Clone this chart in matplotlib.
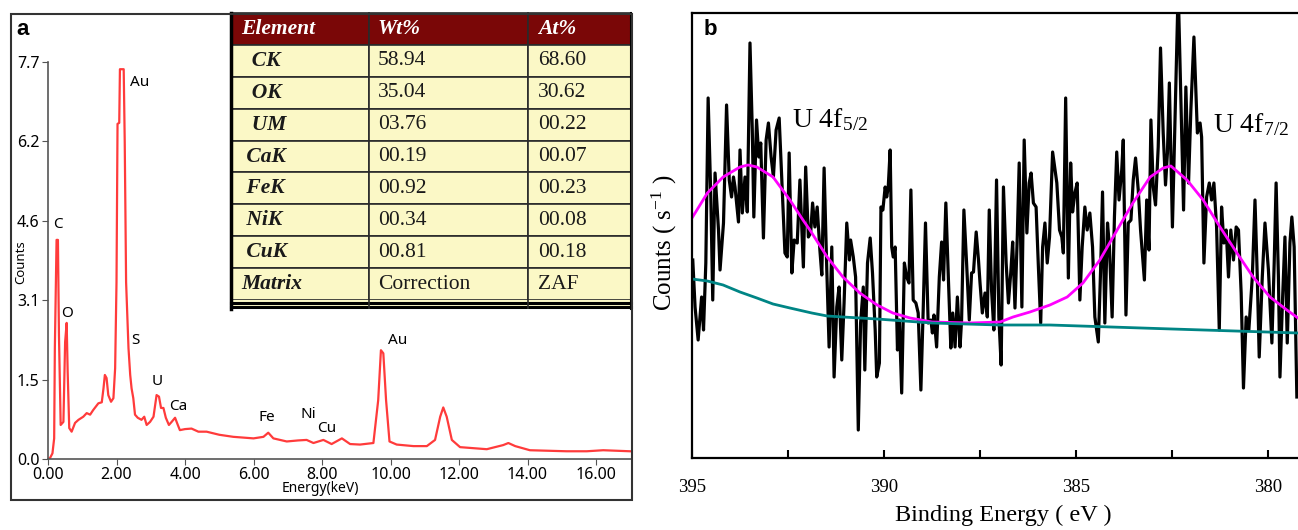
import matplotlib.pyplot as plt
from matplotlib.patches import Rectangle

# EDS spectrum (panel a)
eds_kev = [0.00, 0.06, 0.13, 0.18, 0.20, 0.25, 0.29, 0.32, 0.37, 0.45, 0.50, 0.545, 0.574, 0.62,
           0.69, 0.79, 0.89, 1.03, 1.13, 1.23, 1.32, 1.47, 1.57, 1.62, 1.66, 1.71, 1.76, 1.84,
           1.91, 1.96, 2.00, 2.03, 2.08, 2.10, 2.21, 2.24, 2.28, 2.35, 2.40, 2.44, 2.49, 2.54,
           2.62, 2.73, 2.81, 2.88, 2.98, 3.08, 3.17, 3.24, 3.30, 3.37, 3.44, 3.53, 3.61, 3.71,
           3.79, 3.85, 4.00, 4.19, 4.39, 4.63, 5.00, 5.41, 6.00, 6.29, 6.43, 6.58, 6.97, 7.30,
           7.55, 7.75, 8.04, 8.28, 8.58, 8.82, 9.11, 9.50, 9.64, 9.72, 9.79, 9.87, 9.97, 10.18,
           10.67, 11.06, 11.30, 11.45, 11.54, 11.64, 11.79, 12.03, 12.81, 13.29, 13.44, 13.64,
           14.07, 15.14, 15.73, 16.21, 16.99]
eds_counts = [0.0, 0.02, 0.11, 0.40, 2.15, 4.25, 4.25, 2.40, 0.66, 0.72, 2.27, 2.64, 1.69, 0.60,
              0.53, 0.70, 0.76, 0.82, 0.89, 0.86, 0.95, 1.08, 1.10, 1.37, 1.63, 1.57, 1.24, 1.11,
              1.18, 1.76, 3.43, 6.50, 6.52, 7.56, 7.56, 6.16, 3.43, 2.15, 1.63, 1.37, 1.18, 0.86,
              0.80, 0.76, 0.82, 0.66, 0.72, 0.82, 1.24, 1.21, 0.99, 0.99, 0.80, 0.66, 0.72, 0.80,
              0.66, 0.56, 0.58, 0.59, 0.53, 0.53, 0.47, 0.43, 0.40, 0.43, 0.51, 0.40, 0.34, 0.36,
              0.37, 0.31, 0.37, 0.29, 0.40, 0.29, 0.28, 0.31, 1.14, 2.11, 2.05, 1.14, 0.34, 0.28,
              0.25, 0.25, 0.37, 0.82, 1.00, 0.82, 0.37, 0.23, 0.19, 0.27, 0.31, 0.25,
              0.17, 0.15, 0.15, 0.17, 0.15]
eds_xticks = [0, 2, 4, 6, 8, 10, 12, 14, 16]
eds_yticks = [0, 1.54, 3.08, 4.62, 6.16, 7.7]
eds_ytick_labels = ['0.0', '1.5', '3.1', '4.6', '6.2', '7.7']
peak_names = ['C', 'O', 'Au', 'S', 'U', 'Ca', 'Fe', 'Ni', 'Cu', 'Au']
peak_label_x = [0.29, 0.55, 2.69, 2.54, 3.18, 3.80, 6.39, 7.59, 8.15, 10.22]
peak_label_y = [4.54, 2.83, 7.31, 2.29, 1.51, 1.01, 0.80, 0.87, 0.60, 2.29]

# table
table_header = ['Element', 'Wt%', 'At%']
table_elements = ['  CK', '  OK', '  UM', ' CaK', ' FeK', ' NiK', ' CuK', 'Matrix']
table_wt = ['58.94', '35.04', '03.76', '00.19', '00.92', '00.34', '00.81', 'Correction']
table_at = ['68.60', '30.62', '00.22', '00.07', '00.23', '00.08', '00.18', 'ZAF']

# XPS U 4f (panel b)
xps_energy = [394.98, 394.92, 394.84, 394.75, 394.70, 394.64, 394.58, 394.51, 394.46, 394.40,
              394.31, 394.27, 394.18, 394.10, 394.03, 393.97, 393.92, 393.88, 393.79, 393.75,
              393.69, 393.62, 393.56, 393.49, 393.43, 393.39, 393.32, 393.26, 393.21, 393.14,
              393.07, 393.01, 392.94, 392.88, 392.81, 392.73, 392.67, 392.58, 392.52, 392.47,
              392.40, 392.34, 392.26, 392.19, 392.10, 392.04, 391.97, 391.91, 391.86, 391.80,
              391.74, 391.67, 391.62, 391.56, 391.49, 391.43, 391.36, 391.30, 391.23, 391.17,
              391.10, 391.04, 390.97, 390.90, 390.87, 390.80, 390.74, 390.67, 390.61, 390.54,
              390.50, 390.43, 390.36, 390.30, 390.23, 390.19, 390.12, 390.08, 390.03, 389.97,
              389.93, 389.89, 389.84, 389.80, 389.76, 389.71, 389.65, 389.60, 389.54, 389.47,
              389.41, 389.35, 389.30, 389.24, 389.17, 389.11, 389.04, 388.98, 388.92, 388.85,
              388.78, 388.74, 388.70, 388.63, 388.56, 388.50, 388.45, 388.39, 388.32, 388.26,
              388.21, 388.15, 388.09, 388.02, 387.98, 387.92, 387.85, 387.78, 387.72, 387.67,
              387.60, 387.54, 387.50, 387.44, 387.37, 387.31, 387.26, 387.20, 387.14, 387.07,
              387.01, 386.95, 386.89, 386.82, 386.76, 386.70, 386.65, 386.59, 386.53, 386.48,
              386.41, 386.35, 386.28, 386.22, 386.17, 386.11, 386.04, 385.98, 385.92, 385.87,
              385.81, 385.75, 385.69, 385.61, 385.50, 385.43, 385.37, 385.33, 385.27, 385.20,
              385.14, 385.09, 385.03, 384.97, 384.90, 384.84, 384.77, 384.71, 384.64, 384.57,
              384.51, 384.42, 384.36, 384.31, 384.25, 384.18, 384.13, 384.06, 384.00, 383.94,
              383.88, 383.81, 383.77, 383.70, 383.64, 383.57, 383.51, 383.45, 383.38, 383.32,
              383.22, 383.16, 383.10, 383.05, 382.99, 382.93, 382.86, 382.80, 382.73, 382.67,
              382.62, 382.57, 382.49, 382.34, 382.20, 382.14, 382.07, 382.01, 381.93, 381.84,
              381.77, 381.73, 381.67, 381.60, 381.53, 381.47, 381.41, 381.34, 381.27, 381.21,
              381.15, 381.09, 381.03, 380.97, 380.90, 380.83, 380.77, 380.70, 380.64, 380.57,
              380.50, 380.41, 380.34, 380.28, 380.23, 380.15, 380.08, 379.99, 379.90, 379.84,
              379.79, 379.73, 379.69, 379.62, 379.56, 379.50, 379.43, 379.38, 379.32, 379.25]
xps_counts = [198, 151, 118, 161, 128, 195, 360, 261, 158, 285,
              228, 188, 235, 353, 278, 261, 281, 271, 236, 308,
              245, 281, 246, 415, 328, 241, 338, 301, 315, 220,
              318, 335, 301, 281, 328, 340, 285, 205, 201, 305,
              185, 218, 215, 278, 191, 291, 221, 225, 255, 231,
              251, 208, 183, 290, 188, 111, 211, 81, 151, 171,
              98, 155, 235, 198, 218, 201, 181, 28, 135, 171,
              88, 195, 220, 185, 128, 81, 95, 251, 248, 271,
              261, 271, 308, 211, 201, 211, 108, 138, 65, 195,
              181, 175, 268, 158, 155, 145, 68, 148, 235, 135,
              138, 125, 143, 111, 181, 216, 178, 255, 175, 110,
              145, 111, 161, 111, 138, 248, 195, 138, 185, 186,
              226, 198, 175, 145, 165, 141, 248, 168, 128, 278,
              141, 93, 271, 195, 155, 185, 216, 150, 221, 295,
              151, 318, 225, 275, 285, 255, 251, 191, 135, 211,
              235, 195, 221, 306, 275, 228, 221, 205, 360, 180,
              295, 246, 265, 275, 158, 211, 251, 228, 245, 211,
              141, 116, 188, 266, 135, 235, 211, 141, 241, 306,
              258, 288, 318, 143, 235, 238, 278, 300, 268, 228,
              178, 258, 208, 338, 271, 253, 311, 410, 325, 273,
              305, 375, 231, 470, 248, 371, 275, 348, 421, 325,
              335, 321, 195, 261, 275, 258, 275, 231, 128, 251,
              215, 228, 181, 228, 198, 231, 228, 165, 70, 141,
              128, 181, 258, 181, 101, 181, 235, 188, 115, 195,
              275, 181, 81, 161, 221, 115, 215, 241, 211, 61]
fit_energy = [395.00, 394.60, 394.19, 393.75, 393.54, 393.31, 392.89, 392.45, 392.11, 391.93,
              391.48, 391.07, 390.63, 390.18, 389.77, 389.32, 388.75, 387.76, 386.98, 386.64,
              386.20, 385.68, 385.23, 384.82, 384.38, 383.93, 383.52, 383.07, 382.73, 382.53,
              382.11, 381.69, 381.25, 380.81, 380.39, 379.95, 379.51, 379.22]
fit_counts = [240, 265, 281, 291, 293, 291, 281, 258, 238, 228,
              201, 181, 165, 153, 145, 140, 136, 135, 136, 141,
              146, 153, 161, 175, 198, 228, 255, 281, 290, 292,
              278, 258, 231, 205, 181, 161, 148, 140]
bg_energy = [395.00, 394.60, 394.19, 393.75, 393.31, 392.89, 392.45, 391.88, 391.48, 391.07,
             390.18, 388.75, 387.00, 385.68, 382.50, 379.22]
bg_counts = [179, 177, 173, 166, 160, 154, 150, 145, 142, 141,
             139, 135, 133, 133, 129, 125]
xps_major = [395, 390, 385, 380]
xps_minor = [392.5, 387.5, 382.5]

plt.rcParams['mathtext.fontset'] = 'custom'
plt.rcParams['mathtext.rm'] = 'Liberation Serif'
plt.rcParams['mathtext.it'] = 'Liberation Serif:italic'

W, H = 1298, 530
fig = plt.figure(figsize=(12.98, 5.30), dpi=100)


def fx(px):
    return px / W


def fy(py):
    return 1 - py / H


# ---- panel a ----
fig.add_artist(Rectangle((fx(11), fy(500)), fx(632) - fx(11), fy(14) - fy(500),
                         transform=fig.transFigure, fill=False, lw=1.5, ec='#333333'))

ax1 = fig.add_axes([fx(48), fy(459), fx(632) - fx(48), fy(62) - fy(459)])
ax1.plot(eds_kev, eds_counts, color='#ff3b3b', lw=1.6)
ax1.set_xlim(0, 17.05)
ax1.set_ylim(0, 7.7)
ax1.set_xticks(eds_xticks)
ax1.set_xticklabels(['%.2f' % v for v in eds_xticks])
ax1.set_yticks(eds_yticks)
ax1.set_yticklabels(eds_ytick_labels)
for s in ['top', 'right']:
    ax1.spines[s].set_visible(False)
for s in ['left', 'bottom']:
    ax1.spines[s].set_color('#555555')
    ax1.spines[s].set_linewidth(1.2)
ax1.tick_params(length=4, color='#555555', labelsize=11.5, pad=2)
for lab in ax1.get_xticklabels() + ax1.get_yticklabels():
    lab.set_family('Noto Sans')
for name, x, y in zip(peak_names, peak_label_x, peak_label_y):
    ax1.text(x, y, name, ha='center', va='center', fontsize=11, family='Noto Sans')

fig.text(fx(320), fy(489), 'Energy(keV)', ha='center', va='center', fontsize=10, family='Noto Sans')
fig.text(fx(21), fy(262), 'Counts', ha='center', va='center', rotation=90, fontsize=9.5,
         family='Noto Sans')
fig.text(fx(16), fy(35), 'a', fontsize=16, fontweight='bold', family='Liberation Sans')

# table
tax = fig.add_axes([fx(231), fy(309), fx(631) - fx(231), fy(13) - fy(309)])
tax.set_axis_off()
tax.set_xlim(0, 1)
tax.set_ylim(0, 1)
band = 9 / 296
col_w = [138 / 400, 159 / 400, 103 / 400]
rows = [[e, w, a] for e, w, a in zip(table_elements, table_wt, table_at)]
tbl = tax.table(cellText=rows, colLabels=table_header, colWidths=col_w,
                cellLoc='left', colLoc='left', bbox=[0, band, 1, 1 - band])
tbl.auto_set_font_size(False)
pads = [10 / 138, 9 / 159, 10 / 103]
for (r, c), cell in tbl.get_celld().items():
    cell.set_edgecolor('#2a2a2a')
    cell.set_linewidth(1.2)
    cell.PAD = pads[c]
    t = cell.get_text()
    t.set_fontsize(15.5)
    t.set_family('Liberation Serif')
    if r == 0:
        cell.set_facecolor('#7a0707')
        t.set_color('white')
        t.set_fontweight('bold')
        t.set_fontstyle('italic')
    else:
        cell.set_facecolor('#fbf8c6')
        t.set_color('#1a1a1a')
        if c == 0:
            t.set_fontweight('bold')
            t.set_fontstyle('italic')
tax.add_patch(Rectangle((0, 0), 1, band, fc='#fbf8c6', ec='none'))
for yy in [(309 - 302.5) / 296, (309 - 306.5) / 296]:
    tax.plot([0, 1], [yy, yy], color='black', lw=2.2, clip_on=False)
xb = 0
for w in col_w[:-1]:
    xb += w
    tax.plot([xb, xb], [0, band], color='#2a2a2a', lw=1.2)
tax.plot([0, 0], [0, 1], color='black', lw=2.5, clip_on=False)
tax.plot([1, 1], [0, 1], color='black', lw=1.5, clip_on=False)

# ---- panel b ----
ax2 = fig.add_axes([fx(692), fy(458), fx(1298) - fx(692), fy(13) - fy(458)])
ax2.plot(xps_energy, xps_counts, color='black', lw=2.3)
ax2.plot(fit_energy, fit_counts, color='#ff00ff', lw=2.0)
ax2.plot(bg_energy, bg_counts, color='#008585', lw=2.0)
ax2.set_xlim(395, 379.22)
ax2.set_ylim(0, 445)
ax2.set_yticks([])
ax2.set_xticks(xps_major)
ax2.set_xticks(xps_minor, minor=True)
ax2.tick_params(axis='x', which='both', direction='in', length=6, width=1.5,
                labelsize=13.5, pad=15)
for lab in ax2.get_xticklabels():
    lab.set_family('Liberation Serif')
ax2.spines['right'].set_visible(False)
for s in ['left', 'top', 'bottom']:
    ax2.spines[s].set_linewidth(1.6)

ax2.text(392.40, 331, 'U 4f$_{5/2}$', fontsize=20, family='Liberation Serif', va='baseline')
ax2.text(381.43, 326, 'U 4f$_{7/2}$', fontsize=20, family='Liberation Serif', va='baseline',
         clip_on=False)

fig.text(fx(1003), fy(515), 'Binding Energy ( eV )', ha='center', va='center', fontsize=17.5,
         family='Liberation Serif')
fig.text(fx(664), fy(243), 'Counts ( s$^{-1}$ )', ha='center', va='center', rotation=90,
         fontsize=18, family='Liberation Serif')
fig.text(fx(704), fy(35), 'b', fontsize=16, fontweight='bold', family='Liberation Sans')

fig.savefig('out.png', dpi=100)
